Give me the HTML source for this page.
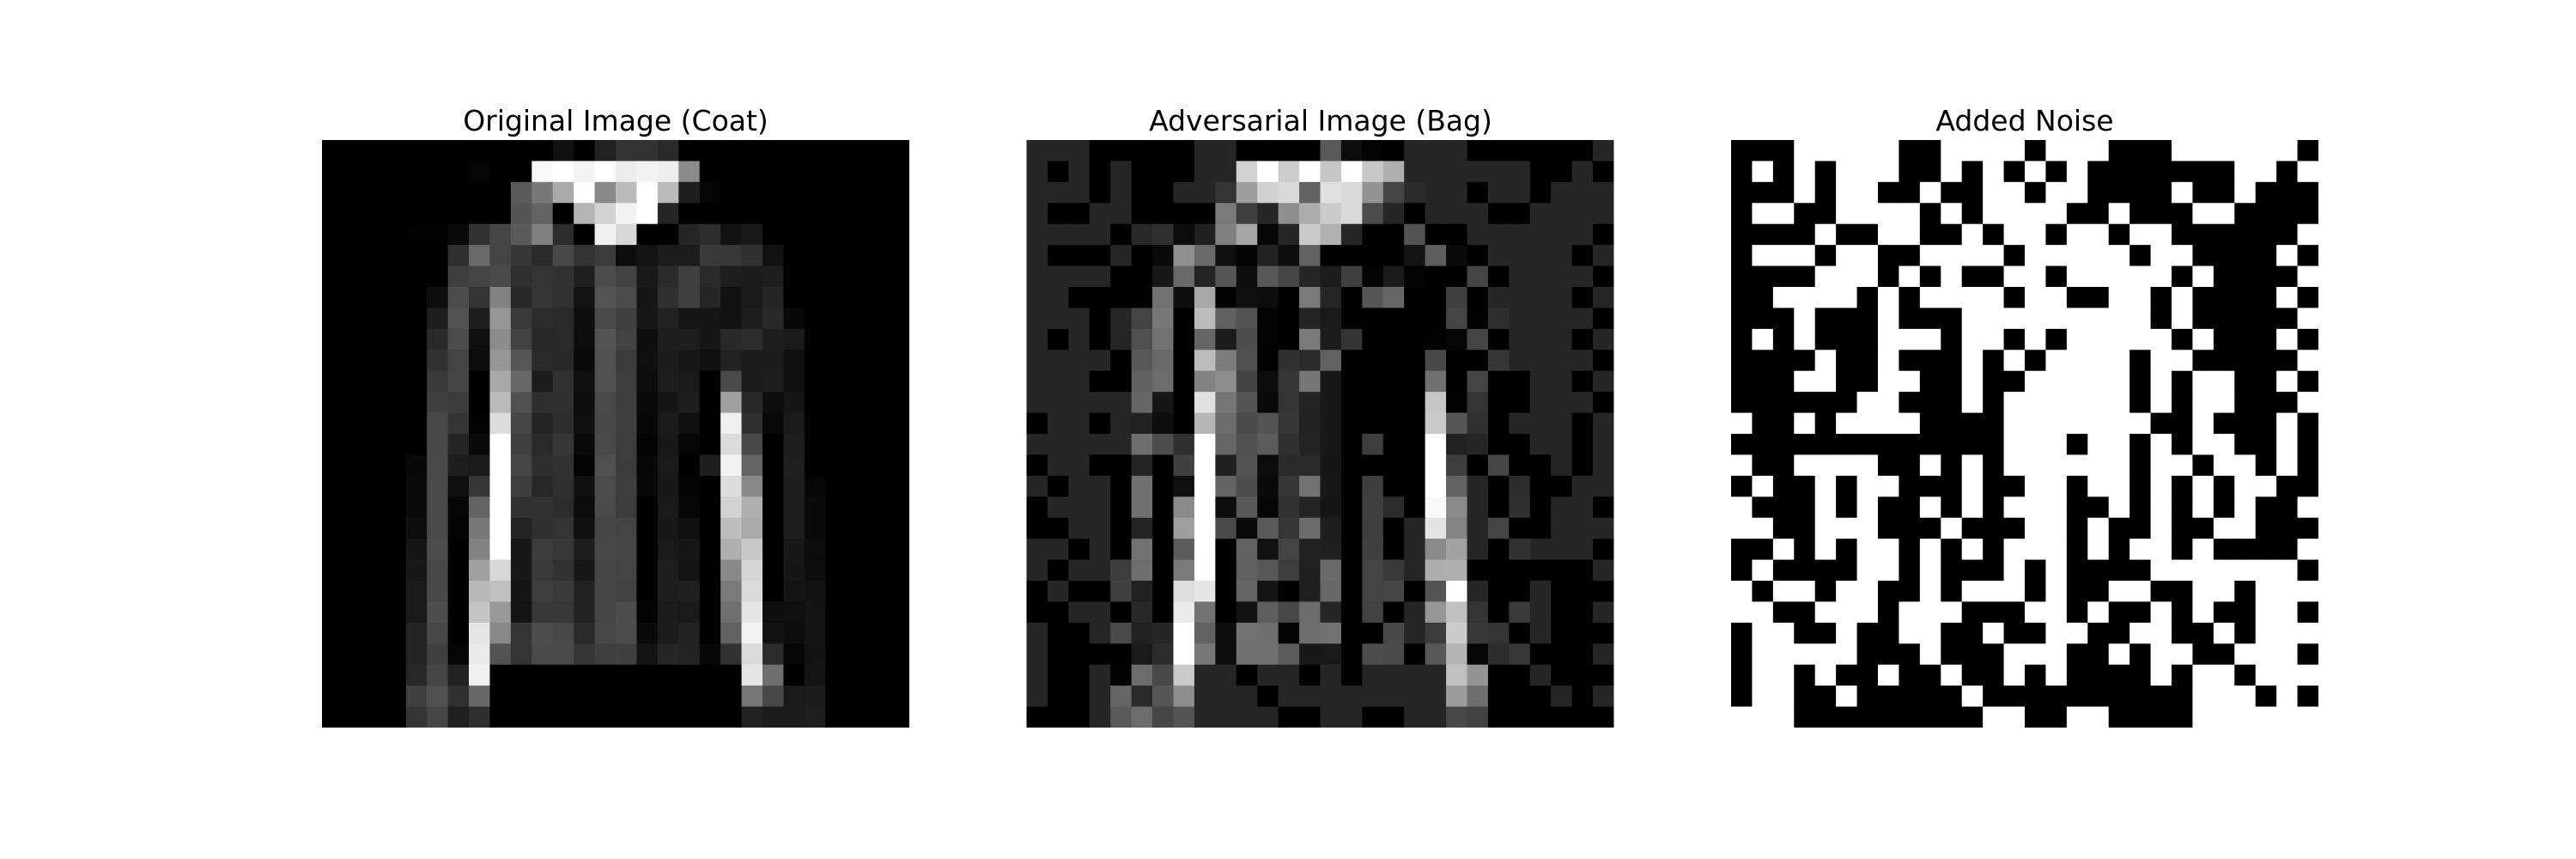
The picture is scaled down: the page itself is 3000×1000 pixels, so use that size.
<!DOCTYPE html>
<html><head><meta charset="utf-8">
<style>
html,body{margin:0;padding:0;background:#fff;}
body{width:3000px;height:1000px;overflow:hidden;}
svg{display:block;}
text{font-family:"DejaVu Sans","Liberation Sans",sans-serif;font-size:33px;fill:#000;}
</style></head>
<body>
<svg id="fig" width="3000" height="1000" viewBox="0 0 3000 1000" xmlns="http://www.w3.org/2000/svg">
<rect x="0" y="0" width="3000" height="1000" fill="#fff"/>
<text x="717" y="152" text-anchor="middle">Original Image (Coat)</text>
<text x="1538" y="152" text-anchor="middle">Adversarial Image (Bag)</text>
<text x="2358" y="152" text-anchor="middle">Added Noise</text>
<g id="p0"></g>
<g id="p1"></g>
<g id="p2"></g>
</svg>
<script>
// Original image pixel values (0-255), 28 rows x 28 cols
const originalRows = [
{11:17,13:34,14:51,15:51,16:42},
{7:5,10:248,11:255,12:243,13:255,14:236,15:242,16:238,17:138},
{9:90,10:120,11:170,12:255,13:136,14:186,15:255,16:186,17:30,18:5},
{9:85,10:100,11:0,12:180,13:210,14:242,15:255,16:38},
{4:2,5:2,6:10,7:50,8:70,9:90,10:128,11:45,13:240,14:215,17:38,18:45,19:18,20:25},
{6:48,7:105,8:68,9:54,10:42,11:72,12:52,13:60,14:12,15:20,16:28,17:28,18:58,19:56,20:48,21:18},
{6:62,7:68,8:74,9:48,10:52,11:50,12:32,13:76,14:66,15:25,16:42,17:64,18:42,19:30,20:28,21:30},
{5:14,6:76,7:52,8:130,9:40,10:54,11:50,12:20,13:84,14:76,15:22,16:48,17:64,18:38,19:18,20:26,21:38},
{5:30,6:82,7:30,8:150,9:58,10:44,11:42,12:14,13:74,14:64,15:24,16:34,17:22,18:22,19:18,20:30,21:40,22:8},
{5:42,6:76,7:16,8:140,9:66,10:40,11:42,12:12,13:84,14:66,15:14,16:30,17:30,18:22,19:40,20:44,21:30,22:26},
{5:50,6:68,7:12,8:150,9:86,10:42,11:40,12:10,13:80,14:60,15:16,16:28,17:24,18:16,19:34,20:28,21:28,22:16},
{5:58,6:70,7:0,8:168,9:104,10:28,11:50,12:16,13:80,14:62,15:12,16:30,17:26,18:0,19:74,20:26,21:30,22:16},
{5:64,6:60,7:0,8:186,9:80,10:46,11:48,12:14,13:74,14:62,15:10,16:22,17:30,18:0,19:160,20:40,21:14,22:22},
{5:72,6:52,7:4,8:220,9:70,10:36,11:46,12:16,13:72,14:62,15:8,16:26,17:16,18:0,19:240,20:48,21:10,22:26},
{5:72,6:38,7:10,8:255,9:64,10:42,11:54,12:10,13:74,14:62,15:4,16:24,17:6,18:0,19:218,20:72,21:0,22:30},
{4:8,5:74,6:30,7:26,8:255,9:70,10:46,11:50,12:4,13:80,14:60,15:8,16:26,17:0,18:30,19:242,20:100,21:0,22:32},
{4:10,5:74,6:16,7:54,8:255,9:62,10:40,11:48,12:16,13:76,14:62,15:8,16:24,17:4,18:0,19:220,20:136,21:0,22:30,23:6},
{4:10,5:74,6:6,7:100,8:255,9:50,10:50,11:44,12:12,13:74,14:60,15:0,16:26,17:6,18:0,19:210,20:176,21:0,22:30,23:10},
{4:14,5:74,6:4,7:120,8:255,9:36,10:48,11:52,12:16,13:70,14:68,15:0,16:24,17:16,18:0,19:190,20:170,21:0,22:30,23:10},
{4:22,5:76,6:0,7:130,8:255,9:24,10:60,11:56,12:30,13:72,14:70,15:0,16:26,17:22,18:0,19:176,20:200,21:0,22:24,23:12},
{4:24,5:72,6:0,7:160,8:216,9:24,10:58,11:50,12:24,13:70,14:68,15:0,16:30,17:20,18:0,19:136,20:214,21:0,22:22,23:14},
{4:26,5:72,6:0,7:184,8:192,9:22,10:62,11:58,12:34,13:70,14:66,15:0,16:30,17:32,18:0,19:122,20:218,21:0,22:20,23:18},
{4:26,5:78,6:0,7:196,8:152,9:20,10:56,11:56,12:34,13:70,14:76,15:4,16:28,17:26,18:0,19:112,20:230,21:14,22:16,23:20},
{4:36,5:72,6:0,7:230,8:136,9:52,10:76,11:72,12:42,13:72,14:76,15:10,16:28,17:34,18:0,19:98,20:242,21:18,22:14,23:20},
{4:36,5:64,6:6,7:234,8:82,9:52,10:74,11:74,12:54,13:62,14:64,15:20,16:38,17:36,18:8,19:50,20:218,21:44,22:6,23:18},
{4:40,5:70,6:34,7:240,20:230,21:110,22:0,23:20},
{4:64,5:80,6:48,7:104,20:118,21:72,22:26,23:28},
{4:52,5:70,6:32,7:46,20:34,21:28,22:28,23:30}
];
// Noise sign: 1 = positive (drawn black), 0 = negative (drawn white)
const noiseRows = [
"1110000011000010001110000001",
"1010100011010101011111110010",
"1110100110110010011110110111",
"1001100001010000110111001111",
"1111011001101001001001111110",
"1000100110000100000100111101",
"1111000101011001000001011110",
"1100001010000100110010111101",
"1110111011100000000010111110",
"1010111000100101000001011101",
"1111011011101010000100111110",
"1110011001101100000101001101",
"1111110011101000000101001110",
"0110100001111000000011011101",
"1111111111111000100101001101",
"0110000110101000000100100101",
"1011010011101100100101010011",
"0111010110101000110101010110",
"0011000111011100101101100111",
"1101010010101000101001011110",
"1011110010111010111100000001",
"0100100110100010110011001000",
"0011000100011100101101011001",
"1001101100110110011001101000",
"1000001110111000110100110001",
"1001011011011010111101001000",
"1001101111101111111111000101",
"0001111111110011001111000000"
];
const epsilon = [38];
const panelLefts = [375, 1195.5, 2016];
const panelTop = 163, panelSize = 684, N = 28;
const cell = panelSize / N;
const NS = "http://www.w3.org/2000/svg";
function origAt(r, c) { const v = originalRows[r][c]; return v === undefined ? 0 : v; }
function noiseAt(r, c) { return noiseRows[r].charAt(c) === "1" ? 1 : -1; }
function advAt(r, c) { return Math.max(0, Math.min(255, origAt(r, c) + epsilon[0] * noiseAt(r, c))); }
function xScale(p, c) { return panelLefts[p] + c * cell; }
function yScale(r) { return panelTop + r * cell; }
function gray(v) { v = Math.round(v); return "rgb(" + v + "," + v + "," + v + ")"; }
const getters = [origAt, advAt, function (r, c) { return noiseAt(r, c) > 0 ? 0 : 255; }];
const names = ["original-pixel", "adversarial-pixel", "noise-pixel"];
for (let p = 0; p < 3; p++) {
  const g = document.getElementById("p" + p);
  for (let r = 0; r < N; r++) {
    for (let c = 0; c < N; c++) {
      const rect = document.createElementNS(NS, "rect");
      
      
      const x0 = xScale(p, c), x1 = xScale(p, c + 1), y0 = yScale(r), y1 = yScale(r + 1);
      rect.setAttribute("x", x0.toFixed(2));
      rect.setAttribute("y", y0.toFixed(2));
      rect.setAttribute("width", (x1 - x0 + (c < N - 1 ? 0.6 : 0)).toFixed(2));
      rect.setAttribute("height", (y1 - y0 + (r < N - 1 ? 0.6 : 0)).toFixed(2));
      rect.setAttribute("fill", gray(getters[p](r, c)));
      g.appendChild(rect);
    }
  }
}
</script>
</body></html>
